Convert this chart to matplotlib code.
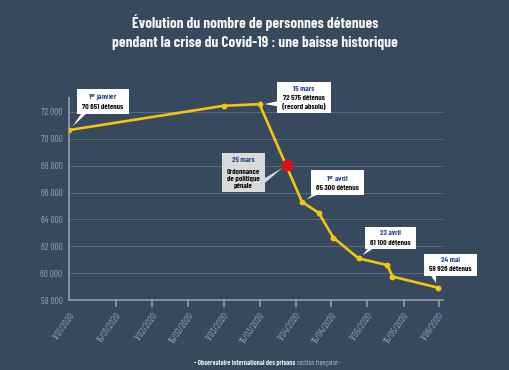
import matplotlib
matplotlib.use("Agg")
import matplotlib.pyplot as plt
from matplotlib import font_manager
from matplotlib.patches import Rectangle, Polygon

# ---- data ----
tick_labels = ["1/01/2020", "15/01/2020", "1/02/2020", "15/02/2020", "1/03/2020",
               "15/03/2020", "1/04/2020", "15/04/2020", "1/05/2020", "15/05/2020",
               "1/06/2020"]
tick_pos = [0.0, 1.306, 2.306, 3.306, 4.289, 5.289, 6.289, 7.278, 8.278, 9.278, 10.26]
x_pos = [0.0, 4.28, 5.28, 6.46, 6.92, 7.33, 8.03, 8.83, 8.97, 10.23]
values = [70651, 72450, 72575, 65300, 64500, 62650, 61100, 60600, 59750, 58926]
ordo_x = [6.03]
ordo_y = [68050]
y_ticks = [58000, 60000, 62000, 64000, 66000, 68000, 70000, 72000]

names = {f.name for f in font_manager.fontManager.ttflist}
cond = next((n for n in ["Barlow Condensed", "Roboto Condensed", "Archivo Narrow",
                         "Fira Sans Condensed", "PT Sans Narrow", "Oswald"] if n in names),
            "DejaVu Sans")
plt.rcParams["mathtext.fontset"] = "custom"
plt.rcParams["mathtext.rm"] = cond
plt.rcParams["mathtext.it"] = cond + ":italic"
plt.rcParams["mathtext.bf"] = cond + ":bold"

bg = "#37495c"
fig = plt.figure(figsize=(5.1, 3.7), dpi=100, facecolor=bg)
ax = fig.add_axes([0.136, 0.189, 0.733, 0.545], facecolor=bg)

ax.set_xlim(0, 10.38)
ax.set_ylim(58000, 73000)
for v in y_ticks[1:]:
    ax.axhline(v, color="#5b6c7d", lw=0.7, zorder=1)

ax.plot(x_pos, values, color="#f4c313", lw=1.9, marker="o", ms=3.2, zorder=3,
        solid_joinstyle="round")
ax.plot(ordo_x, ordo_y, "o", color="#d7141c", ms=7.5, zorder=4)

for s in ["top", "right"]:
    ax.spines[s].set_visible(False)
for s in ["left", "bottom"]:
    ax.spines[s].set_color("#8d98a3")
    ax.spines[s].set_linewidth(1.3)

ax.set_xticks(tick_pos)
ax.set_xticklabels(tick_labels, rotation=55, ha="right", va="top",
                   rotation_mode="anchor", fontsize=6.6, color="#9aa6b2",
                   family=cond)
ax.tick_params(axis="x", length=5, width=1.3, color="#8d98a3", pad=3)
ax.xaxis.get_major_ticks()[0].tick1line.set_visible(False)
ax.set_yticks(y_ticks)
ax.set_yticklabels([f"{v:,}".replace(",", " ") for v in y_ticks],
                   fontsize=6.6, color="#9aa6b2", family=cond)
ax.tick_params(axis="y", length=0, pad=5)

fs = 5.6
blue = "#2d4f8e"
callouts = []


def callout(xy, center, head, body, relpos, fc="white"):
    n = body.count("\n") + 1
    ls = 1.2 * fs
    t1 = ax.annotate(head, xy=center, xytext=(0, n / 2 * ls), textcoords="offset points",
                     ha="center", va="center", fontsize=fs, fontweight="bold",
                     family=cond, color=blue, annotation_clip=False, zorder=8)
    t2 = ax.annotate(body, xy=center, xytext=(0, -ls / 2), textcoords="offset points",
                     ha="center", va="center", fontsize=fs, fontweight="bold",
                     family=cond, color="#111111", multialignment="center",
                     annotation_clip=False, zorder=8)
    callouts.append((t1, t2, xy, relpos, fc))


callout((x_pos[0], values[0]), (0.936, 72684), r"1$^{\mathbf{er}}$ janvier", "70 651 détenus",
        (0.12, 0))
callout((x_pos[2], values[2]), (6.52, 73041), "15 mars", "72 575 détenus\n(record absolu)", (0, 0.3))
callout((ordo_x[0], ordo_y[0]), (4.83, 67383), "25 mars", "Ordonnance\nde politique\npénale",
        (1, 0.3), fc="#d9dadc")
callout((x_pos[3], values[3]), (7.44, 66676), r"1$^{\mathbf{er}}$ avril", "65 300 détenus",
        (0.08, 0))
callout((x_pos[6], values[6]), (8.91, 62624), "23 avril", "61 100 détenus", (0.1, 0))
callout((x_pos[9], values[9]), (10.58, 60625), "24 mai", "58 926 détenus", (0.18, 0))

fig.text(0.5, 0.938, "Évolution du nombre de personnes détenues", ha="center", va="center",
         fontsize=11, fontweight="bold", color="#f2f2f2", family=cond)
fig.text(0.5, 0.885, "pendant la crise du Covid-19 : une baisse historique", ha="center",
         va="center", fontsize=11, fontweight="bold", color="#f2f2f2", family=cond)

fig.text(0.578, 0.018, "- Observatoire international des prisons", ha="right", va="center",
         fontsize=5, fontweight="bold", color="#e6e9ec", family=cond)
fig.text(0.582, 0.018, "section française -", ha="left", va="center",
         fontsize=5, color="#b8c0c8", family=cond)

# ---- draw callout boxes and tails around the measured texts ----
fig.canvas.draw()
r = fig.canvas.get_renderer()
inv = fig.transFigure.inverted()
padx, pady = 5, 3.5
for t1, t2, xy, relpos, fc in callouts:
    b1 = t1.get_window_extent(r)
    b2 = t2.get_window_extent(r)
    x0 = min(b1.x0, b2.x0) - padx
    x1 = max(b1.x1, b2.x1) + padx
    y0 = min(b1.y0, b2.y0) - pady
    y1 = max(b1.y1, b2.y1) + pady
    (fx0, fy0) = inv.transform((x0, y0))
    (fx1, fy1) = inv.transform((x1, y1))
    ax.add_patch(Rectangle((fx0, fy0), fx1 - fx0, fy1 - fy0, transform=fig.transFigure,
                           fc=fc, ec="none", zorder=6, clip_on=False))
    # tail
    px, py = ax.transData.transform(xy)
    bx = x0 + relpos[0] * (x1 - x0)
    by = y0 + relpos[1] * (y1 - y0)
    dx, dy = px - bx, py - by
    d = (dx ** 2 + dy ** 2) ** 0.5
    tip = (bx + dx * (d - 5) / d, by + dy * (d - 5) / d)
    hw = 2.5
    if relpos[1] in (0, 1):
        base = [(bx - hw, by), (bx + hw, by)]
    else:
        base = [(bx, by - hw), (bx, by + hw)]
    pts = [inv.transform(p) for p in base + [tip]]
    ax.add_patch(Polygon(pts, closed=True, transform=fig.transFigure, fc=fc, ec="none",
                         zorder=6, clip_on=False))

fig.savefig("out.png", dpi=100, facecolor=bg)
